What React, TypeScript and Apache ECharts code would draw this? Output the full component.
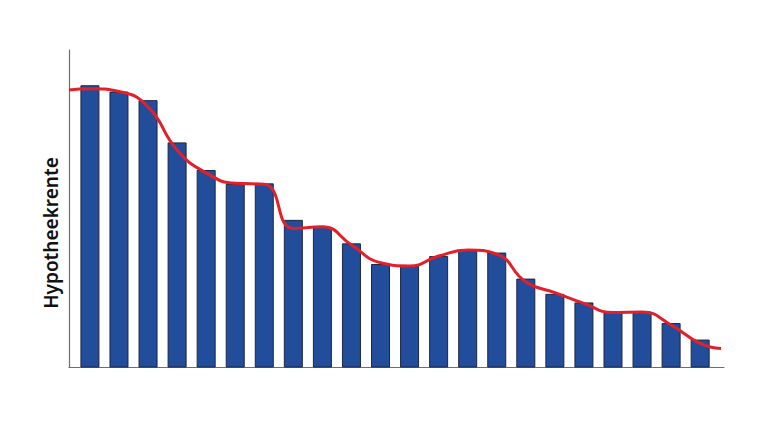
import React, { useEffect, useRef } from "react";
import * as echarts from "echarts";

// Bar heights (relative units, 0-100 scale)
const barValues = [88.9, 86.9, 84.2, 70.9, 62.2, 57.8, 58.0, 46.5, 44.3, 39.1, 32.6, 32.0, 35.1, 36.9, 36.2, 28.0, 23.2, 20.5, 17.6, 17.6, 14.0, 8.8];
// Trend line (smooth) positions along the bar index axis and its values
const lineX = [-0.72, 0, 1, 2, 3, 4, 5, 6, 7, 8, 9, 10, 11, 12, 13, 14, 15, 16, 17, 18, 19, 20, 21, 21.72];
const lineValues = [87.4, 87.8, 86.9, 82.1, 68.5, 61.3, 58.0, 57.7, 43.8, 44.3, 38.6, 33.0, 32.0, 35.1, 37.0, 35.7, 27.0, 23.6, 20.2, 17.3, 17.5, 13.4, 7.6, 6.0];
const yAxisTitle = "Hypotheekrente";

export default function App() {
  const ref = useRef<HTMLDivElement>(null);
  useEffect(() => {
    if (!ref.current) return;
    const chart = echarts.init(ref.current, undefined, { renderer: "svg" });
    chart.setOption({
      animation: false,
      backgroundColor: "#ffffff",
      grid: { left: 69, right: 36, top: 50, bottom: 72.5 },
      xAxis: {
        type: "value",
        min: -0.72,
        max: 21.82,
        axisLine: { show: true, lineStyle: { color: "#6e6e6e", width: 1.2 } },
        axisTick: { show: false },
        axisLabel: { show: false },
        splitLine: { show: false },
      },
      yAxis: {
        type: "value",
        min: 0,
        max: 100,
        axisLine: { show: true, onZero: false, lineStyle: { color: "#6e6e6e", width: 1.2 } },
        axisTick: { show: false },
        axisLabel: { show: false },
        splitLine: { show: false },
      },
      graphic: [
        {
          type: "text",
          x: 51,
          y: 233,
          rotation: Math.PI / 2,
          style: {
            text: yAxisTitle,
            fontFamily: "Noto Sans",
            fontSize: 19,
            fontWeight: 600,
            fill: "#111111",
            align: "center",
            verticalAlign: "middle",
          },
        },
      ],
      series: [
        {
          type: "bar",
          data: barValues.map((v, i) => [i, v]),
          barWidth: 19,
          itemStyle: { color: "#214d9b", borderColor: "#1b2746", borderWidth: 1 },
          z: 2,
        },
        {
          type: "line",
          data: lineValues.map((v, i) => [lineX[i], v]),
          smooth: 0.5,
          showSymbol: false,
          symbol: "none",
          lineStyle: { color: "#e3202a", width: 3 },
          z: 3,
        },
      ],
    });
    return () => chart.dispose();
  }, []);
  return <div ref={ref} style={{ position: "fixed", left: 0, top: 0, width: 760, height: 440 }} />;
}
